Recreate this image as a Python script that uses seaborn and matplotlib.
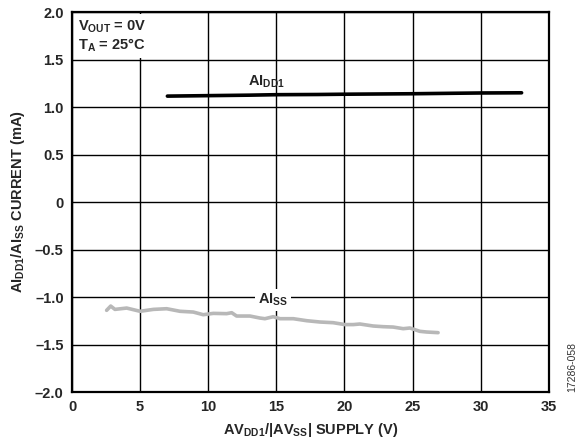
import matplotlib
matplotlib.use("Agg")
import matplotlib.pyplot as plt
import seaborn as sns
import pandas as pd

# AIDD1 data
idd_x = [7, 10, 13, 15, 18, 20, 23, 25, 28, 30, 33]
idd_y = [1.115, 1.12, 1.125, 1.13, 1.132, 1.135, 1.138, 1.14, 1.145, 1.148, 1.15]

# AISS data
iss_x = [2.54, 2.84, 3.15, 4.01, 4.99, 5.97, 6.95, 7.92, 8.90, 9.63, 10.37, 11.35, 11.72,
         12.08, 13.06, 13.79, 14.16, 14.77, 15.26, 16.24, 17.22, 18.2, 19.17, 20.03, 20.64,
         21.13, 22.11, 22.84, 23.57, 24.31, 24.8, 25.53, 26.02, 26.87]
iss_y = [-1.14, -1.095, -1.13, -1.116, -1.15, -1.13, -1.123, -1.15, -1.158, -1.186, -1.172,
         -1.175, -1.165, -1.2, -1.2, -1.221, -1.228, -1.207, -1.228, -1.228, -1.249, -1.263,
         -1.27, -1.29, -1.29, -1.284, -1.305, -1.312, -1.316, -1.333, -1.326, -1.361, -1.368,
         -1.375]

x_ticks = [0, 5, 10, 15, 20, 25, 30, 35]
y_ticks = [2.0, 1.5, 1.0, 0.5, 0, -0.5, -1.0, -1.5, -2.0]
y_tick_labels = ["2.0", "1.5", "1.0", "0.5", "0", "\u20130.5", "\u20131.0", "\u20131.5", "\u20132.0"]

sns.set_style("white")
plt.rcParams['font.family'] = ['Liberation Sans', 'DejaVu Sans']
plt.rcParams['mathtext.fontset'] = 'custom'
plt.rcParams['mathtext.rm'] = 'Liberation Sans:bold'
plt.rcParams['mathtext.bf'] = 'Liberation Sans:bold'
plt.rcParams['mathtext.it'] = 'Liberation Sans:bold'
plt.rcParams['mathtext.default'] = 'bf'

fig = plt.figure(figsize=(5.87, 4.46), dpi=100)
ax = fig.add_axes([0.1227, 0.121, 0.8123, 0.852])

df_idd = pd.DataFrame({"x": idd_x, "y": idd_y})
df_iss = pd.DataFrame({"x": iss_x, "y": iss_y})
sns.lineplot(data=df_idd, x="x", y="y", ax=ax, color="black", linewidth=2.6, zorder=3)
sns.lineplot(data=df_iss, x="x", y="y", ax=ax, color="#b8b8b8", linewidth=2.6, zorder=3)

ax.set_xlim(0, 35)
ax.set_ylim(-2.0, 2.0)
ax.set_xticks(x_ticks)
ax.set_xticklabels([str(t) for t in x_ticks])
ax.set_yticks(y_ticks)
ax.set_yticklabels(y_tick_labels)
ax.grid(True, color="black", linewidth=1.0)
ax.set_axisbelow(True)
for s in ax.spines.values():
    s.set_visible(True)
    s.set_color("black")
    s.set_linewidth(1.6)
ax.tick_params(axis="both", length=0, labelsize=10.5, pad=6)
for lab in ax.get_xticklabels() + ax.get_yticklabels():
    lab.set_fontweight("bold")

ax.set_xlabel(r"AV$_{\mathrm{DD1}}$/|AV$_{\mathrm{SS}}$| SUPPLY (V)", fontsize=10.5, fontweight="bold", labelpad=5)
ax.set_ylabel(r"AI$_{\mathrm{DD1}}$/AI$_{\mathrm{SS}}$ CURRENT (mA)", fontsize=10.5, fontweight="bold", labelpad=6)

ax.text(0.45, 1.93, "V$_{\\mathrm{OUT}}$ = 0V\nT$_{\\mathrm{A}}$ = 25°C", fontsize=10.5, fontweight="bold",
        va="top", ha="left", zorder=4, linespacing=1.1,
        bbox=dict(facecolor="white", edgecolor="none", pad=3))
ax.text(14.3, 1.27, "AI$_{\\mathrm{DD1}}$", fontsize=10.5, fontweight="bold", ha="center", va="center", zorder=4)
ax.text(14.75, -1.03, "AI$_{\\mathrm{SS}}$", fontsize=10.5, fontweight="bold", ha="center", va="center", zorder=4,
        bbox=dict(facecolor="white", edgecolor="none", pad=2))

fig.text(0.975, 0.12, "17286-058", rotation=90, fontsize=7.5, color="#333333", ha="center", va="bottom")

fig.savefig("out.png", dpi=100)
